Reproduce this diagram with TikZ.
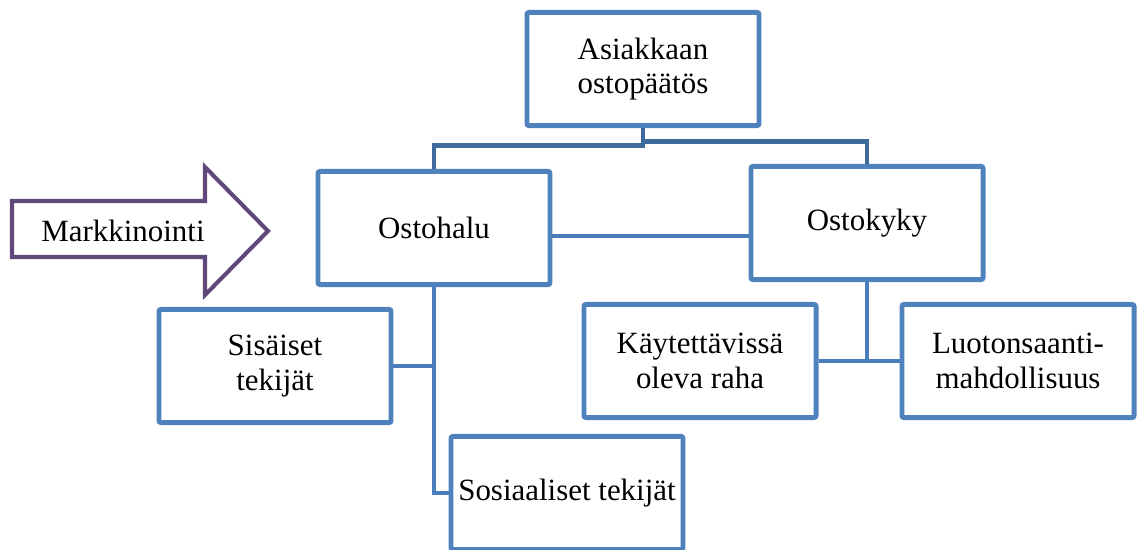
\documentclass[tikz,border=0pt]{standalone}
\usepackage{fontspec}
\setmainfont{Liberation Serif}
\usepackage{xcolor}
\usepackage{tikz}
\usetikzlibrary{calc}
\definecolor{boxblue}{HTML}{4F81BD}
\definecolor{linkblue}{HTML}{4A7EBB}
\definecolor{topblue}{HTML}{3E6A9C}
\definecolor{markpurple}{HTML}{5F497A}
\tikzstyle{box} = [draw=boxblue, line width=3.5pt, rounded corners=1.5pt, fill=white,
  minimum width=5.8cm, minimum height=2.83cm, align=center, inner sep=0pt,
  font=\fontsize{22}{24.5}\selectfont]
\tikzstyle{link} = [draw=linkblue, line width=2.9pt]
\tikzstyle{toplink} = [draw=topblue, line width=3.5pt]

\begin{document}
\begin{tikzpicture}[x=0.025cm,y=-0.025cm]
	\useasboundingbox (0,0) rectangle (1138,549);
	
	% Boxes:
	\node[box] (asia) at (643,69) {Asiakkaan\\ostopäätös};
	\node[box] (halu) at (434,228) {Ostohalu};
	\node[box] (kyky) at (867,223) {Ostokyky};
	\node[box] (sis) at (275,366) {Sisäiset\\tekijät};
	\node[box] (kay) at (700,361) {Käytettävissä\\oleva raha};
	\node[box] (luo) at (1018,361) {Luotonsaanti-\\mahdollisuus};
	\node[box] (sos) at (567,493) {Sosiaaliset tekijät};
	
	% Connectors:
	\draw[toplink] (asia.south) -- ++(0,17) -| (halu.north);
	\draw[toplink] (asia.south) ++(0,13) -| (kyky.north);
	\draw[link] (halu.east) ++(0,8) coordinate (hk) -- (hk -| kyky.west);
	\draw[link] (sis.east) -- (sis.east -| halu.south);
	\draw[link] (halu.south) |- (sos.west);
	\draw[link] (kyky.south) -- (kyky.south |- kay.east);
	\draw[link] (kay.east) -- (luo.west);
	
	% Arrow:
	\draw[markpurple, line width=2.9pt, line join=miter]
		(12,201) -- (205,201) -- (205,167) -- (268,231) -- (205,295) -- (205,257) -- (12,257) -- cycle;
	\node[font=\fontsize{22}{24.5}\selectfont] (mark) at (123,231) {Markkinointi};
	
\end{tikzpicture}
\end{document}
